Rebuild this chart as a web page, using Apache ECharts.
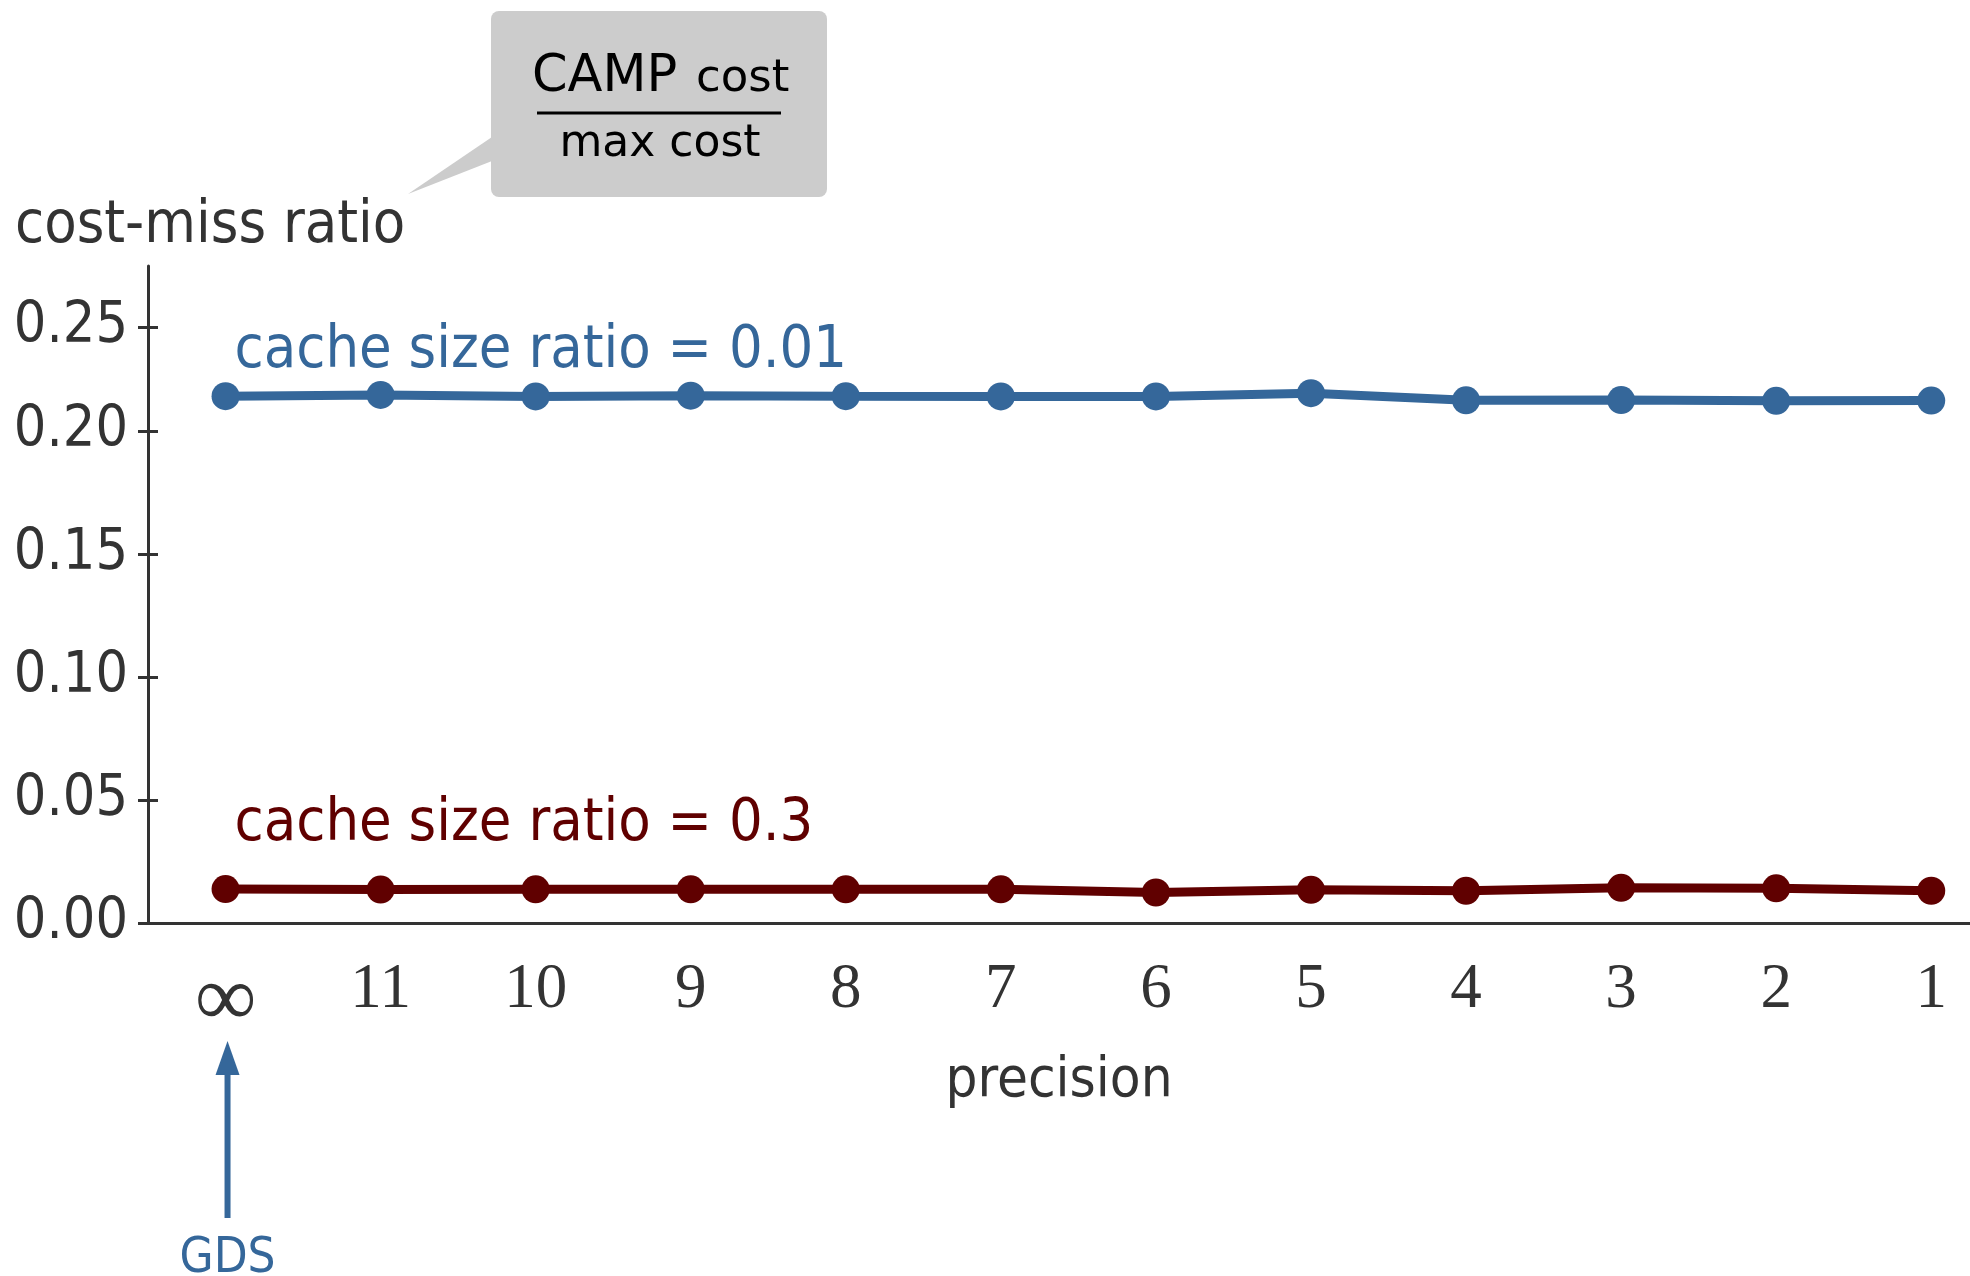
<!DOCTYPE html>
<html>
<head>
<meta charset="utf-8">
<script src="https://cdn.jsdelivr.net/npm/echarts@6/dist/echarts.min.js"></script>
<style>
  html, body { margin: 0; padding: 0; background: #ffffff; }
  #chart { width: 1970px; height: 1276px; }
</style>
</head>
<body>
<div id="chart"></div>
<script>
// precision setting along the x axis (∞ = exact GDS)
const precisionLabels = ['∞', '11', '10', '9', '8', '7', '6', '5', '4', '3', '2', '1'];
const xTickValues = [0, 1, 2, 3, 4, 5, 6, 7, 8, 9, 10, 11];

// cost-miss ratio per precision, one array per cache size ratio
const costMissSmallCache = [0.2141, 0.2146, 0.2140, 0.2143, 0.2141, 0.2140, 0.2140, 0.2153, 0.2124, 0.2125, 0.2122, 0.2123];
const costMissLargeCache = [0.0138, 0.0136, 0.0137, 0.0137, 0.0137, 0.0137, 0.0124, 0.0135, 0.0131, 0.0143, 0.0141, 0.0131];

// y ticks: where each tick sits on the axis, and the text printed beside it
const yTickValues = [0, 0.05, 0.10, 0.15, 0.20, 0.242];
const yTickLabels = ['0.00', '0.05', '0.10', '0.15', '0.20', '0.25'];

const seriesNames = ['cache size ratio = 0.01', 'cache size ratio = 0.3'];

const BLUE = '#35679a';
const RED = '#600000';
const INK = '#333333';
const FONT = "'DejaVu Sans Condensed', 'DejaVu Sans', sans-serif";
const FONT_WIDE = "'DejaVu Sans', sans-serif";
const FONT_MATH = "'Liberation Serif', 'DejaVu Serif', serif";

const chart = echarts.init(document.getElementById('chart'), null, { renderer: 'canvas' });

const tickStyle = { color: INK, width: 3 };

const option = {
  animation: false,
  backgroundColor: '#ffffff',
  grid: { left: 148, right: 0, top: 266, bottom: 353, containLabel: false },
  xAxis: {
    type: 'value',
    min: -0.5,
    max: 11.25,
    name: 'precision',
    nameLocation: 'middle',
    nameGap: 130,
    nameTextStyle: { fontFamily: FONT, fontSize: 56, color: INK },
    axisLine: { show: true, onZero: false, lineStyle: { color: INK, width: 3 } },
    axisTick: { show: false },
    splitLine: { show: false },
    axisLabel: {
      customValues: xTickValues,
      formatter: v => {
        const i = Math.round(v);
        return i === 0 ? '{inf|' + precisionLabels[i] + '}' : precisionLabels[i];
      },
      margin: 36,
      fontFamily: FONT_MATH,
      fontSize: 63,
      color: INK,
      rich: {
        inf: { fontFamily: FONT_MATH, fontSize: 86, color: INK }
      }
    }
  },
  yAxis: [
    {
      type: 'value',
      min: 0,
      max: 0.267,
      position: 'left',
      axisLine: { show: true, onZero: false, lineStyle: { color: INK, width: 3 } },
      axisTick: { show: true, inside: false, length: 10, customValues: yTickValues, lineStyle: tickStyle },
      axisLabel: {
        customValues: yTickValues,
        formatter: v => {
          const i = yTickValues.findIndex(t => Math.abs(t - v) < 1e-6);
          return i >= 0 ? yTickLabels[i] : '';
        },
        margin: 20,
        fontFamily: FONT,
        fontSize: 57,
        color: INK
      },
      splitLine: { show: false }
    },
    {
      // inner half of the crossing tick marks
      type: 'value',
      min: 0,
      max: 0.267,
      position: 'left',
      axisLine: { show: false, onZero: false },
      axisTick: { show: true, inside: true, length: 10, customValues: yTickValues, lineStyle: tickStyle },
      axisLabel: { show: false },
      splitLine: { show: false }
    }
  ],
  series: [
    {
      name: seriesNames[0],
      type: 'line',
      data: costMissSmallCache.map((v, i) => [i, v]),
      symbol: 'circle',
      symbolSize: 28,
      lineStyle: { color: BLUE, width: 9 },
      itemStyle: { color: BLUE },
      z: 3
    },
    {
      name: seriesNames[1],
      type: 'line',
      data: costMissLargeCache.map((v, i) => [i, v]),
      symbol: 'circle',
      symbolSize: 28,
      lineStyle: { color: RED, width: 9 },
      itemStyle: { color: RED },
      z: 3
    }
  ]
};

chart.setOption(option);

// annotations anchored to the first point of each series
const pBlue = chart.convertToPixel({ gridIndex: 0 }, [0, costMissSmallCache[0]]);
const pRed = chart.convertToPixel({ gridIndex: 0 }, [0, costMissLargeCache[0]]);
const xInf = pBlue[0];
const xAxisY = chart.convertToPixel({ gridIndex: 0 }, [0, 0])[1];

chart.setOption({
  graphic: [
    // y axis title
    {
      type: 'text', left: 15, top: 197,
      style: { text: 'cost-miss ratio', font: '59px ' + FONT, fill: INK }
    },
    // callout with the ratio definition
    {
      type: 'polygon',
      shape: { points: [[492, 137], [492, 161], [408, 194]] },
      style: { fill: '#cccccc' }
    },
    {
      type: 'rect',
      shape: { x: 491, y: 11, width: 336, height: 186, r: 8 },
      style: { fill: '#cccccc' }
    },
    {
      type: 'text', x: 532, y: 103,
      style: { text: 'CAMP', font: '51px ' + FONT_WIDE, fill: '#000000', verticalAlign: 'bottom' }
    },
    {
      type: 'text', x: 696, y: 102,
      style: { text: 'cost', font: '45px ' + FONT_WIDE, fill: '#000000', verticalAlign: 'bottom' }
    },
    {
      type: 'line',
      shape: { x1: 537, y1: 113, x2: 781, y2: 113 },
      style: { stroke: '#000000', lineWidth: 3 }
    },
    {
      type: 'text', x: 660, y: 167,
      style: { text: 'max cost', font: '44px ' + FONT_WIDE, fill: '#000000', align: 'center', verticalAlign: 'bottom' }
    },
    // series labels
    {
      type: 'text', x: xInf + 9, y: pBlue[1] - 15,
      style: { text: seriesNames[0], font: '59px ' + FONT, fill: BLUE, verticalAlign: 'bottom' }
    },
    {
      type: 'text', x: xInf + 9, y: pRed[1] - 35,
      style: { text: seriesNames[1], font: '59px ' + FONT, fill: RED, verticalAlign: 'bottom' }
    },
    // GDS marker under the ∞ tick
    {
      type: 'line',
      shape: { x1: xInf + 2, y1: xAxisY + 295, x2: xInf + 2, y2: xAxisY + 145 },
      style: { stroke: BLUE, lineWidth: 6 }
    },
    {
      type: 'polygon',
      shape: { points: [[xInf + 2, xAxisY + 118], [xInf - 10, xAxisY + 152], [xInf + 14, xAxisY + 152]] },
      style: { fill: BLUE }
    },
    {
      type: 'text', x: xInf + 2, y: xAxisY + 336,
      style: { text: 'GDS', font: '49px ' + FONT, fill: BLUE, align: 'center', verticalAlign: 'middle' }
    }
  ]
});
</script>
</body>
</html>
